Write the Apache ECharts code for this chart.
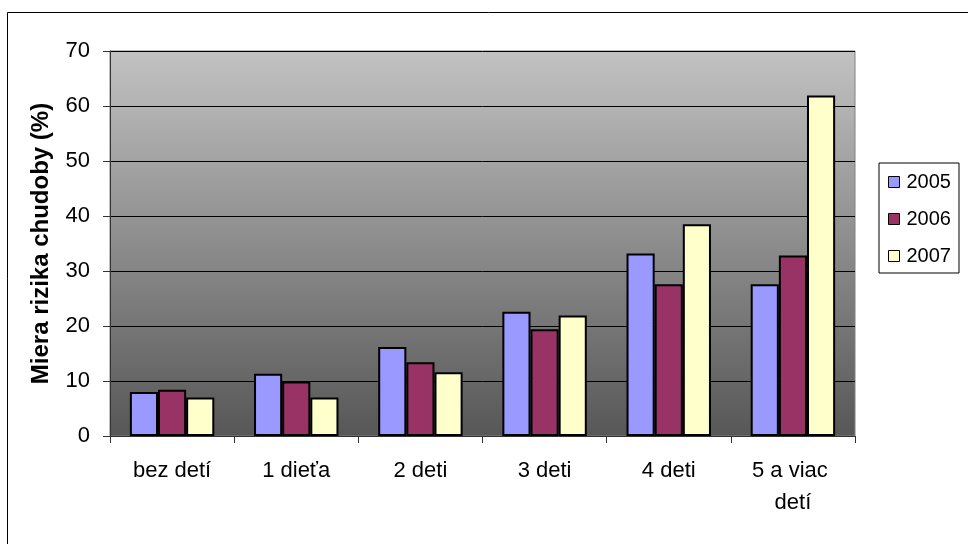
<!DOCTYPE html>
<html>
<head>
<meta charset="utf-8">
<script src="https://cdn.jsdelivr.net/npm/echarts@6/dist/echarts.min.js"></script>
<style>
  html, body { margin: 0; padding: 0; background: #fff; }
  #chart { width: 968px; height: 544px; }
</style>
</head>
<body>
<div id="chart"></div>
<script>
// Miera rizika chudoby podľa počtu detí v domácnosti
const categories = ['bez detí', '1 dieťa', '2 deti', '3 deti', '4 deti', '5 a viac detí'];
const years = ['2005', '2006', '2007'];
const values2005 = [8.0, 11.3, 16.2, 22.6, 33.2, 27.6];
const values2006 = [8.4, 9.9, 13.4, 19.4, 27.6, 32.8];
const values2007 = [7.0, 7.0, 11.6, 21.9, 38.5, 61.9];
const yTicks = { min: 0, max: 70, interval: 10 };

const colors = ['#9999FF', '#993366', '#FFFFCC'];
const seriesValues = [values2005, values2006, values2007];
const font = '"Liberation Sans", Arial, sans-serif';

const chart = echarts.init(document.getElementById('chart'), null, { renderer: 'canvas' });

chart.setOption({
  animation: false,
  backgroundColor: '#fff',
  textStyle: { fontFamily: font, color: '#000' },
  graphic: [{
    type: 'rect',
    shape: { x: 7.5, y: 12.5, width: 1000, height: 600 },
    style: { fill: 'none', stroke: '#000', lineWidth: 1 },
    silent: true,
    z: -10
  }],
  grid: {
    left: 110, right: 113, top: 51, bottom: 108,
    show: true,
    borderColor: '#808080',
    borderWidth: 1,
    backgroundColor: new echarts.graphic.LinearGradient(0, 0, 0, 1, [
      { offset: 0, color: '#c2c2c2' },
      { offset: 1, color: '#575757' }
    ])
  },
  legend: {
    orient: 'vertical',
    left: 879, top: 163,
    data: years,
    backgroundColor: '#fff',
    borderColor: '#000',
    borderWidth: 1,
    padding: [9, 8, 7, 9],
    itemWidth: 11, itemHeight: 11,
    itemGap: 17,
    icon: 'rect',
    itemStyle: { borderColor: '#000', borderWidth: 1 },
    textStyle: { fontSize: 20, lineHeight: 20, color: '#000', fontFamily: font, padding: [0, 0, 0, 2] }
  },
  xAxis: {
    type: 'category',
    data: categories,
    axisLine: { lineStyle: { color: '#333', width: 1 } },
    axisTick: { show: true, length: 7, lineStyle: { color: '#333' } },
    axisLabel: {
      interval: 0,
      hideOverlap: false,
      fontSize: 22, color: '#000', margin: 19,
      width: 110, overflow: 'break', lineHeight: 32,
      fontFamily: font
    }
  },
  yAxis: {
    type: 'value',
    min: yTicks.min, max: yTicks.max, interval: yTicks.interval,
    name: 'Miera rizika chudoby (%)',
    nameLocation: 'middle',
    nameRotate: 90,
    nameGap: 57,
    nameTextStyle: { fontSize: 24, fontWeight: 'bold', color: '#000', fontFamily: font },
    axisLine: { show: true, lineStyle: { color: '#333', width: 1 } },
    axisTick: { show: true, length: 7, lineStyle: { color: '#333' } },
    axisLabel: { fontSize: 22, color: '#000', margin: 20, fontFamily: font },
    splitLine: { show: true, lineStyle: { color: '#000', width: 1 } }
  },
  series: years.map((y, i) => ({
    name: y,
    type: 'bar',
    data: seriesValues[i],
    barGap: '0%',
    barCategoryGap: '32%',
    itemStyle: { color: colors[i], borderColor: '#000', borderWidth: 2 }
  }))
});
</script>
</body>
</html>
